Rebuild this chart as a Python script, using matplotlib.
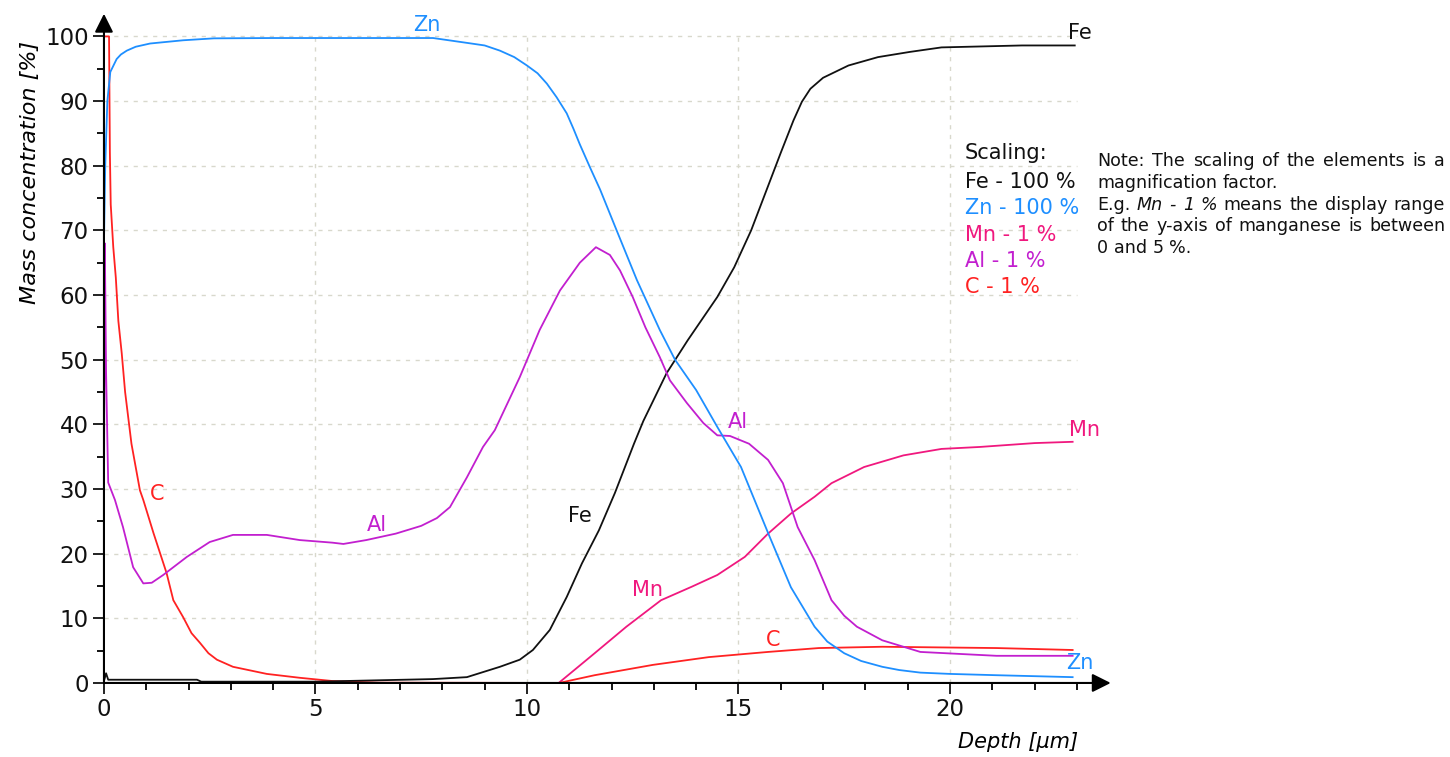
import matplotlib
matplotlib.use("Agg")
from matplotlib import pyplot as plt
from matplotlib.ticker import MultipleLocator

plt.rcParams['font.family'] = ['DejaVu Sans']

# depth profiles (depth in µm, mass concentration in %, scaled)
zn_depth = [0, 0.03, 0.08, 0.15, 0.3, 0.4, 0.54, 0.75, 1.09, 1.4, 1.87, 2.6, 4, 6, 7.78, 8.58, 9.0,
            9.36, 9.7, 10.0, 10.25, 10.47, 10.7, 10.94, 11.1, 11.25, 11.5, 11.73, 12.12, 12.6, 13.14,
            13.5, 14.0, 14.5, 15.06, 15.7, 16.24, 16.8, 17.1, 17.5, 17.9, 18.4, 18.8, 19.3, 20.0,
            21.1, 22.9]
zn_conc = [68, 80, 90, 94.5, 96.5, 97.2, 97.8, 98.4, 98.9, 99.1, 99.4, 99.7, 99.75, 99.75, 99.75,
           99.0, 98.6, 97.8, 96.8, 95.5, 94.3, 92.7, 90.6, 88.1, 85.7, 83.3, 79.6, 76.3, 70, 62.3,
           54.6, 50, 45.3, 39.6, 33.4, 23.2, 14.8, 8.7, 6.4, 4.6, 3.4, 2.5, 2.0, 1.6, 1.4, 1.2, 0.9]

fe_depth = [0, 0.05, 0.1, 0.3, 2.2, 2.3, 5, 7.78, 8.58, 9.36, 9.83, 10.14, 10.54, 10.94, 11.3, 11.7,
            12.08, 12.53, 12.75, 13.3, 13.8, 14.5, 14.9, 15.3, 16.0, 16.3, 16.5, 16.7, 17.0, 17.6,
            18.3, 19.05, 19.8, 21.7, 22.95]
fe_conc = [0.3, 1.5, 0.5, 0.5, 0.5, 0.2, 0.2, 0.6, 0.9, 2.5, 3.6, 5.1, 8.2, 13.3, 18.5, 23.6, 29.4,
           37, 40.5, 47.9, 53, 59.7, 64.3, 70, 82, 87, 89.9, 91.9, 93.6, 95.5, 96.8, 97.6, 98.3,
           98.6, 98.6]

al_depth = [0, 0.02, 0.05, 0.1, 0.26, 0.45, 0.69, 0.93, 1.13, 1.4, 1.96, 2.5, 3.05, 3.85, 4.63, 5.4,
            5.66, 6.2, 6.9, 7.5, 7.87, 8.18, 8.58, 8.96, 9.24, 9.83, 10.3, 10.78, 11.25, 11.63,
            11.96, 12.2, 12.5, 12.8, 13.14, 13.38, 13.78, 14.17, 14.5, 14.8, 15.25, 15.7, 16.05,
            16.4, 16.8, 17.2, 17.5, 17.8, 18.4, 19.3, 21.1, 22.9]
al_conc = [27, 68, 48, 31, 28.3, 24.1, 17.9, 15.4, 15.5, 16.7, 19.5, 21.8, 22.9, 22.9, 22.1, 21.7,
           21.5, 22.1, 23.1, 24.3, 25.5, 27.2, 31.8, 36.5, 39.1, 47.3, 54.6, 60.7, 65, 67.4, 66.2,
           63.8, 59.7, 55, 50.4, 46.8, 43.3, 40.2, 38.3, 38.2, 37, 34.5, 30.9, 24.1, 19, 12.8, 10.4,
           8.7, 6.6, 4.8, 4.2, 4.2]

mn_depth = [0, 10.75, 11.6, 12.35, 13.17, 13.9, 14.5, 15.15, 15.7, 16.24, 16.8, 17.2, 17.97, 18.9,
            19.8, 20.7, 22.0, 22.9]
mn_conc = [0, 0, 4.6, 8.7, 12.8, 14.9, 16.7, 19.5, 23.1, 26.2, 28.8, 30.9, 33.4, 35.2, 36.2, 36.5,
           37.1, 37.3]

c_depth = [0, 0.12, 0.14, 0.16, 0.22, 0.28, 0.34, 0.42, 0.5, 0.65, 0.85, 0.93, 1.17, 1.48, 1.64,
           1.87, 2.07, 2.27, 2.47, 2.67, 3.05, 3.85, 4.63, 5.4, 6.5, 10.76, 11.6, 12.98, 14.3, 15.7,
           16.9, 18.4, 21.1, 22.9]
c_conc = [100, 100, 82, 74, 67.4, 62.7, 56, 51, 45, 37, 29.8, 28.3, 23.2, 17, 12.8, 10.2, 7.7, 6.2,
          4.6, 3.6, 2.5, 1.4, 0.8, 0.3, 0.05, 0, 1.2, 2.8, 4.0, 4.8, 5.4, 5.6, 5.4, 5.1]

elements = ["Fe", "Zn", "Mn", "Al", "C"]
scaling = ["100 %", "100 %", "1 %", "1 %", "1 %"]
colors = {"Fe": "#111111", "Zn": "#1E8FFF", "Mn": "#F0187E", "Al": "#C21FCF", "C": "#FF2222"}

x_ticks = [0, 5, 10, 15, 20]
y_ticks = [0, 10, 20, 30, 40, 50, 60, 70, 80, 90, 100]

W, H = 1450, 757
fig = plt.figure(figsize=(W / 100, H / 100), dpi=100)
ax = fig.add_axes([0.0717, 0.0978, 0.6943, 0.884])

# dotted grid, stops at the end of the measured range
ax.hlines(y_ticks[1:], 0, 23, colors="#d8d8cc", linestyles=(0, (3, 4)), lw=1, zorder=0)
ax.vlines(x_ticks[1:], 0, 100.5, colors="#d8d8cc", linestyles=(0, (3, 4)), lw=1, zorder=0)

ax.plot(mn_depth, mn_conc, color=colors["Mn"], lw=1.3)
ax.plot(c_depth, c_conc, color=colors["C"], lw=1.3)
ax.plot(fe_depth, fe_conc, color=colors["Fe"], lw=1.3)
ax.plot(al_depth, al_conc, color=colors["Al"], lw=1.3)
ax.plot(zn_depth, zn_conc, color=colors["Zn"], lw=1.3)

ax.set_xlim(0, 23.8)
ax.set_ylim(0, 103.5)
for s in ax.spines.values():
    s.set_visible(False)

# axes with arrow heads
for end in [(1, 0), (0, 1)]:
    ax.annotate("", xy=end, xytext=(0, 0), xycoords="axes fraction",
                arrowprops=dict(arrowstyle="-|>", color="black", lw=1.5, mutation_scale=28,
                                shrinkA=0, shrinkB=0))

ax.set_xticks(x_ticks)
ax.set_yticks(y_ticks)
ax.xaxis.set_minor_locator(MultipleLocator(1))
ax.yaxis.set_minor_locator(MultipleLocator(5))
ax.tick_params(which="major", direction="out", length=8, width=1.3, labelsize=16.5, pad=3, colors="#111111")
ax.tick_params(which="minor", direction="out", length=5, width=1.3)

fig.text(30 / W, 1 - 172 / H, "Mass concentration [%]", rotation=90, ha="center", va="center",
         fontsize=16, style="italic")
fig.text(1078 / W, 1 - 742 / H, "Depth [µm]", ha="right", va="center", fontsize=15, style="italic")

# curve labels
curve_labels = [("Zn", 7.64, 101.7), ("Fe", 23.07, 100.6), ("C", 1.25, 29.2), ("Al", 6.45, 24.4),
                ("Fe", 11.25, 25.8), ("Mn", 12.84, 14.4), ("Al", 14.99, 40.3), ("Mn", 23.19, 39.1),
                ("C", 15.82, 6.6), ("Zn", 23.07, 3.1)]
for name, lx, ly in curve_labels:
    ax.text(lx, ly, name, color=colors[name], fontsize=15, ha="center", va="center", clip_on=False)

# scaling legend
fig.text(965 / W, 1 - 153 / H, "Scaling:", fontsize=15, color="#111111", va="center")
for i, (el, sc) in enumerate(zip(elements, scaling)):
    fig.text(965 / W, 1 - (182 + 26.3 * i) / H, "{0} - {1}".format(el, sc), fontsize=15,
             color=colors[el], va="center")

# justified note block
note = [("Note: The scaling of the elements is a", None, True),
        ("magnification factor.", None, False),
        ("E.g. Mn - 1 % means the display range", (1, 5), True),
        ("of the y-axis of manganese is between", None, True),
        ("0 and 5 %.", None, False)]
note_size = 12.6
renderer = fig.canvas.get_renderer()
x0, x1 = 1097, 1445
for i, (line, italic, justify) in enumerate(note):
    y = 1 - (161 + 21.8 * i) / H
    words = line.split(" ")
    texts = []
    for j, w in enumerate(words):
        st = "italic" if italic and italic[0] <= j < italic[1] else "normal"
        texts.append(fig.text(x0 / W, y, w, fontsize=note_size, style=st, color="#111111", va="center"))
    widths = [t.get_window_extent(renderer).width for t in texts]
    if justify:
        gap = (x1 - x0 - sum(widths)) / (len(texts) - 1)
    else:
        gap = 0.318 * note_size * 100 / 72
    pos = x0
    for t, w in zip(texts, widths):
        t.set_x(pos / W)
        pos += w + gap

fig.savefig("out.png", dpi=100)
